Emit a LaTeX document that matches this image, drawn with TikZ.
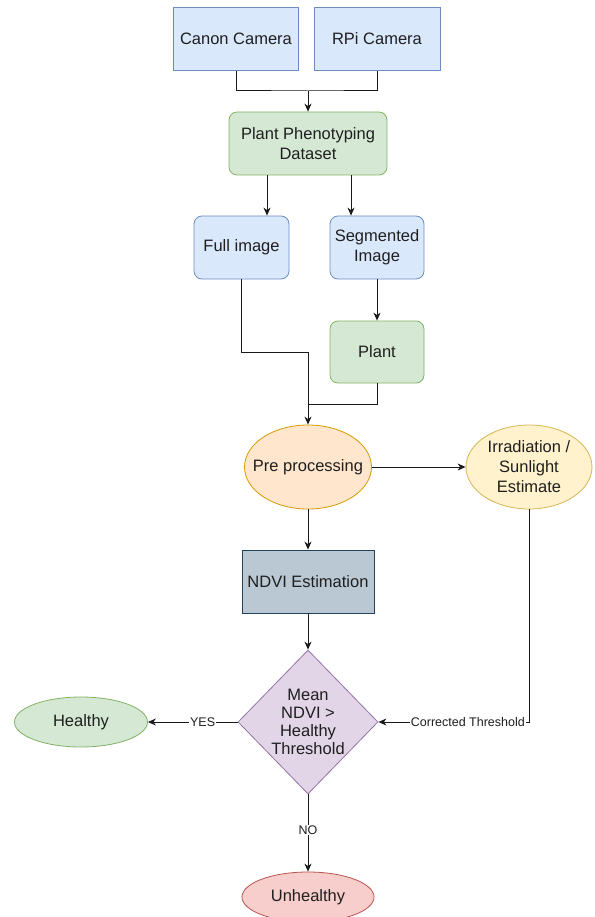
\documentclass[tikz,border=0pt]{standalone}
\usepackage{fontspec}
\setmainfont{Liberation Sans}
\usetikzlibrary{shapes.geometric,arrows.meta,calc}
\definecolor{bluefill}{HTML}{DAE8FC}\definecolor{bluedraw}{HTML}{6C8EBF}
\definecolor{greenfill}{HTML}{D5E8D4}\definecolor{greendraw}{HTML}{82B366}
\definecolor{orangefill}{HTML}{FFE6CC}\definecolor{orangedraw}{HTML}{D79B00}
\definecolor{yellowfill}{HTML}{FFF2CC}\definecolor{yellowdraw}{HTML}{D6B656}
\definecolor{grayfill}{HTML}{BAC8D3}\definecolor{graydraw}{HTML}{23445D}
\definecolor{purplefill}{HTML}{E1D5E7}\definecolor{purpledraw}{HTML}{9673A6}
\definecolor{redfill}{HTML}{F8CECC}\definecolor{reddraw}{HTML}{B85450}
\tikzset{
  txt/.style={inner sep=0pt, align=center, font=\fontsize{16.5}{20}\selectfont, text=black!88},
  box/.style={draw, line width=0.8pt, txt},
  bluebox/.style={box, fill=bluefill, draw=bluedraw},
  bluerbox/.style={box, fill=bluefill, draw=bluedraw, rounded corners=8pt},
  greenrbox/.style={box, fill=greenfill, draw=greendraw, rounded corners=8pt},
  ell/.style={draw, line width=0.8pt, ellipse, inner sep=0pt},
  conn/.style={draw=black!90, line width=1pt},
  arr/.style={conn, -{Stealth[length=8pt,width=7pt,inset=2.5pt]}},
  lbl/.style={fill=white, inner sep=0.8pt, font=\fontsize{12.5}{14}\selectfont, text=black!88}
}
\begin{document}
\begin{tikzpicture}[x=1pt,y=-1pt]
\useasboundingbox (0,0) rectangle (594,917);
% nodes
\node[bluebox, minimum width=125, minimum height=63] (canon) at (236,39) {Canon Camera};
\node[bluebox, minimum width=126, minimum height=63] (rpi) at (377,39) {RPi Camera};
\node[greenrbox, minimum width=158, minimum height=63] (dataset) at (308,143.5) {Plant Phenotyping\\Dataset};
\node[bluerbox, minimum width=95, minimum height=63] (full) at (241.5,247.5) {Full image};
\node[bluerbox, minimum width=94, minimum height=63] (seg) at (377,247.5) {Segmented\\Image};
\node[greenrbox, minimum width=94, minimum height=62] (plant) at (377,352) {Plant};
\node[ell, fill=orangefill, draw=orangedraw, minimum width=127, minimum height=84] (pre) at (308,467) {};
\node[txt] (pretxt) at (pre.center) {Pre processing};
\node[ell, fill=yellowfill, draw=yellowdraw, minimum width=126, minimum height=84] (irr) at (529,467) {};
\node[txt] (irrtxt) at (irr.center) {Irradiation /\\Sunlight\\Estimate};
\node[box, fill=grayfill, draw=graydraw, minimum width=132, minimum height=63] (ndvi) at (308,581.5) {NDVI Estimation};
\node[draw, line width=0.8pt, diamond, inner sep=0pt, fill=purplefill, draw=purpledraw, minimum width=140, minimum height=144] (dec) at (308,722) {};
\node[txt, font=\fontsize{16.5}{17.8}\selectfont] (dectxt) at (dec.center) {Mean\\NDVI >\\Healthy\\Threshold};
\node[ell, fill=greenfill, draw=greendraw, minimum width=133, minimum height=50] (healthy) at (81,722) {};
\node[txt] (healthytxt) at (healthy.center) {Healthy};
\node[ell, fill=redfill, draw=reddraw, minimum width=132, minimum height=50] (unhealthy) at (308,897) {};
\node[txt] (unhealthytxt) at (unhealthy.center) {Unhealthy};
% junction coordinates
\coordinate (j1) at (308,91);
\coordinate (c267) at (267,0);
\coordinate (c351) at (351,0);
\coordinate (j3) at (308,352);
\coordinate (j4) at (308,404);
% connectors
\draw[conn] (canon.south) |- (j1) -| (rpi.south);
\draw[arr] (j1) -- (dataset.north);
\draw[arr] (dataset.south -| c267) -- (full.north -| c267);
\draw[arr] (dataset.south -| c351) -- (seg.north -| c351);
\draw[arr] (seg.south) -- (plant.north);
\draw[arr] (full.south) |- (j3) -- (pre.north);
\draw[conn] (plant.south) |- (j4);
\draw[arr] (pre.east) -- (irr.west);
\draw[arr] (pre.south) -- (ndvi.north);
\draw[arr] (ndvi.south) -- (dec.north);
\draw[arr] (dec.west) -- node[lbl, pos=0.39] {YES} (healthy.east);
\draw[arr] (dec.south) -- node[lbl, pos=0.46] {NO} (unhealthy.north);
\draw[arr] (irr.south) |- node[lbl, pos=0.703] {Corrected Threshold} (dec.east);
\end{tikzpicture}
\end{document}
